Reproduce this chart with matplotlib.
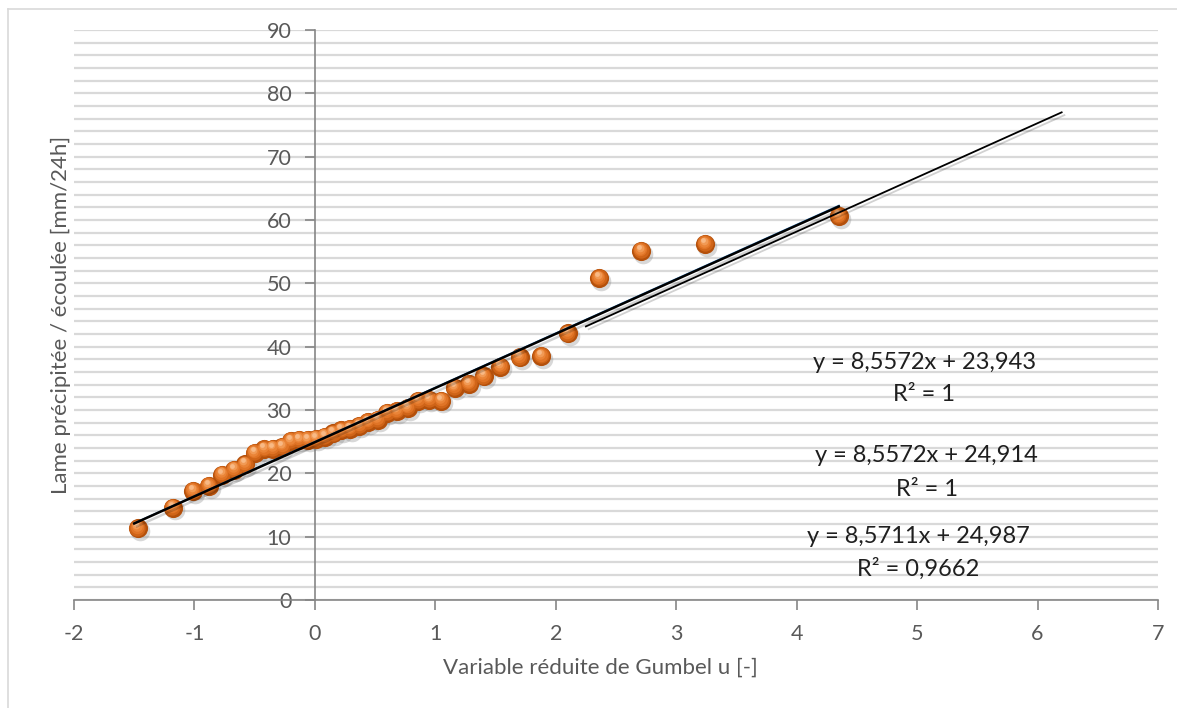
import numpy as np
import matplotlib
matplotlib.use("Agg")
import matplotlib.pyplot as plt
from matplotlib.ticker import MultipleLocator
from matplotlib.transforms import offset_copy
import matplotlib.patheffects as pe

plt.rcParams["font.family"] = ["Lato", "DejaVu Sans"]
plt.rcParams["axes.unicode_minus"] = False

GREY = "#595959"
AXIS = "#868686"
GRID = "#D9D9D9"

# Gumbel reduced variate (Hazen plotting positions, n = 39) and sorted depths
U = [-1.47, -1.18, -1.01, -0.88, -0.77, -0.67, -0.58, -0.50, -0.42, -0.35,
     -0.27, -0.20, -0.13, -0.06, 0.01, 0.08, 0.15, 0.22, 0.29, 0.37,
     0.44, 0.52, 0.60, 0.68, 0.77, 0.86, 0.95, 1.05, 1.16, 1.28,
     1.40, 1.54, 1.70, 1.88, 2.10, 2.36, 2.71, 3.24, 4.35]
LAME = [11.3, 14.6, 17.2, 18.0, 19.8, 20.6, 21.4, 23.2, 23.8, 23.9,
        24.2, 25.1, 25.3, 25.3, 25.5, 25.8, 26.3, 26.8, 27.0, 27.5,
        28.1, 28.5, 29.6, 29.8, 30.3, 31.5, 31.6, 31.5, 33.5, 34.1,
        35.3, 36.8, 38.3, 38.5, 42.1, 50.8, 55.1, 56.2, 60.6]

# straight lines: (slope, intercept, x start, x end)
FIT_DATA = (8.5711, 24.987, -1.5, 4.35)
LINE_1 = (8.5572, 24.914, -1.5, 4.35)
LINE_2 = (8.5572, 23.943, 2.25, 6.2)

EQ_LABELS = [
    ("y = 8,5572x + 23,943", "R² = 1"),
    ("y = 8,5572x + 24,914", "R² = 1"),
    ("y = 8,5711x + 24,987", "R² = 0,9662"),
]


def seg(line):
    a, b, x0, x1 = line
    xs = np.array([x0, x1])
    return xs, a * xs + b


def main():
    W, H = 1177, 708
    fig = plt.figure(figsize=(W / 100, H / 100), dpi=100)
    fig.patch.set_facecolor("white")
    ax = fig.add_axes([74 / W, (H - 600) / H, (1158 - 74) / W, 570 / H])

    ax.set_xlim(-2, 7)
    ax.set_ylim(0, 90)
    ax.xaxis.set_major_locator(MultipleLocator(1))
    ax.yaxis.set_major_locator(MultipleLocator(10))
    ax.yaxis.set_minor_locator(MultipleLocator(2))
    ax.grid(axis="y", which="both", color=GRID, lw=1.6, zorder=0)
    ax.set_axisbelow(True)

    for s in ("top", "right"):
        ax.spines[s].set_visible(False)
    ax.spines["left"].set_position(("data", 0))
    for s in ("left", "bottom"):
        ax.spines[s].set_color(AXIS)
        ax.spines[s].set_linewidth(1.2)
    ax.tick_params(axis="both", which="major", direction="out", length=7,
                   width=1.2, color=AXIS, labelcolor=GREY, labelsize=15.5)
    ax.tick_params(axis="x", pad=10)
    ax.tick_params(axis="y", pad=10)
    ax.tick_params(axis="y", which="minor", length=0)

    # spheres: shadow + layered shading
    size = 190
    sh = offset_copy(ax.transData, fig=fig, x=2.0, y=-2.5, units="dots")
    ax.scatter(U, LAME, s=size * 1.05, color="#7f7f7f", alpha=0.3,
               lw=0, transform=sh, zorder=3)
    shades = ["#B4500B", "#CF6418", "#E07426", "#EA8437", "#F19A55",
              "#F8B985"]
    for k, c in enumerate(shades):
        f = 1 - 0.15 * k
        tr = offset_copy(ax.transData, fig=fig, x=-0.4 * k, y=0.8 * k,
                         units="dots")
        ax.scatter(U, LAME, s=size * f * f, color=c, lw=0, transform=tr,
                   zorder=4 + k * 0.01)

    shadow = [pe.SimpleLineShadow(offset=(2, -2), alpha=0.18), pe.Normal()]
    x, y = seg(FIT_DATA)
    ax.plot(x, y, color="#2E75B6", lw=1.2, zorder=5)
    x, y = seg(LINE_1)
    ax.plot(x, y, color="black", lw=1.8, zorder=6, path_effects=shadow)
    x, y = seg(LINE_2)
    ax.plot(x, y, color="black", lw=1.3, zorder=6, path_effects=shadow)

    # equation labels (data coords)
    pos = [(5.06, 37.5, 32.4), (5.08, 22.8, 17.4), (5.01, 10.0, 5.0)]
    for (eq, r2), (xc, y1, y2) in zip(EQ_LABELS, pos):
        ax.text(xc, y1, eq, ha="center", va="center", fontsize=17,
                color="#1f1f1f", zorder=7)
        ax.text(xc, y2, r2, ha="center", va="center", fontsize=17,
                color="#1f1f1f", zorder=7)

    fig.text(61 / W, 1 - 315 / H, "Lame précipitée / écoulée [mm/24h]",
             rotation=90, ha="center", va="center", fontsize=16, color=GREY)
    fig.text(600 / W, 1 - 668 / H, "Variable réduite de Gumbel u [-]",
             ha="center", va="center", fontsize=16, color=GREY)

    # chart area border (left and top visible)
    fig.add_artist(plt.Line2D([8 / W, 8 / W], [0, 1 - 9 / H], color=GRID,
                              lw=1.2, transform=fig.transFigure))
    fig.add_artist(plt.Line2D([8 / W, 1], [1 - 9 / H, 1 - 9 / H], color=GRID,
                              lw=1.2, transform=fig.transFigure))

    fig.savefig("out.png", dpi=100, facecolor="white")


if __name__ == "__main__":
    main()
